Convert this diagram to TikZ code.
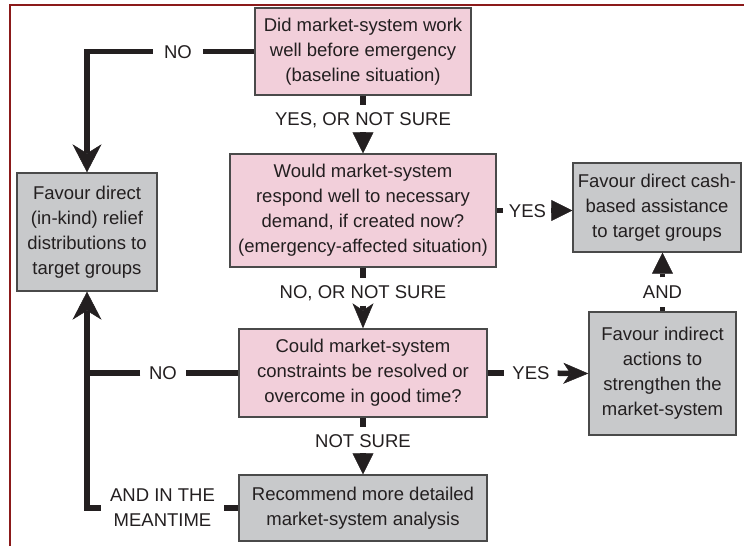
\documentclass[tikz,border=0pt]{standalone}
\usepackage{fontspec}
\setmainfont{Liberation Sans}
\usetikzlibrary{arrows.meta}

\definecolor{ink}{HTML}{231F20}
\definecolor{qpink}{HTML}{F2CFDA}
\definecolor{agrey}{HTML}{C8C9CB}
\definecolor{edge}{HTML}{4A4A4A}
\definecolor{framered}{HTML}{8B1A1A}

\begin{document}
\begin{tikzpicture}[x=1pt,y=-1pt,
  txt/.style={font=\fontsize{18.5}{25}\selectfont, text=ink},
  box/.style={txt, draw=edge, line width=1.4pt, align=center, inner sep=0pt},
  question/.style={box, fill=qpink},
  action/.style={box, fill=agrey},
  lbl/.style={txt, inner xsep=9pt, inner ysep=8pt, text height=13pt, text depth=0pt},
  lbltwo/.style={txt, align=center, inner xsep=9pt, inner ysep=4pt},
  conn/.style={draw=ink, line width=5.5pt, line join=miter},
  bigstealth/.style={-{Stealth[length=28pt,width=29pt,inset=9pt,line width=0.5pt]}},
  midstealth/.style={-{Stealth[length=25pt,width=21pt,inset=7pt,line width=0.5pt]}},
  tri/.style={-{Triangle[length=21pt,width=21pt,line width=0.5pt]}}
]
\useasboundingbox (0,0) rectangle (744,546);

% page frame
\draw[framered, line width=2pt] (10,546) -- (10,5) -- (744,5);

% decision boxes
\node[question, minimum width=216pt, minimum height=87pt] (q1) at (363,51.5)
  {Did market-system work\\well before emergency\\(baseline situation)};
\node[question, minimum width=266pt, minimum height=113pt] (q2) at (363,210.5)
  {Would market-system\\respond well to necessary\\demand, if created now?\\(emergency-affected situation)};
\node[question, minimum width=248pt, minimum height=88pt] (q3) at (363,373)
  {Could market-system\\constraints be resolved or\\overcome in good time?};

% outcome boxes
\node[action, minimum width=248pt, minimum height=66pt] (rec) at (363,508)
  {Recommend more detailed\\market-system analysis};
\node[action, minimum width=140pt, minimum height=118pt] (inkind) at (87,232)
  {Favour direct\\(in-kind) relief\\distributions to\\target groups};
\node[action, minimum width=168pt, minimum height=89pt] (cash) at (657,207.5)
  {Favour direct cash-\\based assistance\\to target groups};
\node[action, minimum width=147pt, minimum height=123pt] (indirect) at (662.5,373.5)
  {Favour indirect\\actions to\\strengthen the\\market-system};

% connector labels
\node[lbl, inner xsep=11pt] (no1) at (178,51.5) {NO};
\node[lbl, inner ysep=7pt] (yes0) at (363,119) {YES, OR NOT SURE};
\node[lbl, inner xsep=6pt] (yes1) at (527.5,210.5) {YES};
\node[lbl, inner ysep=7pt] (no0) at (363,292) {NO, OR NOT SURE};
\node[lbl, inner xsep=8.5pt] (no2) at (163,373) {NO};
\node[lbl, inner xsep=8pt] (yes2) at (531,373) {YES};
\node[lbl, inner ysep=7pt] (ns) at (363,441) {NOT SURE};
\node[lbltwo] (meantime) at (162.5,508) {AND IN THE\\MEANTIME};
\node[lbl, inner ysep=8pt] (and) at (662.5,292) {AND};
\coordinate (join) at (87,373);

% connectors
\draw[conn] (q1.west) -- (no1);
\draw[conn, bigstealth] (no1) -| (inkind.north);

\draw[conn] (q1.south) -- (yes0);
\draw[conn, tri] (yes0) -- (q2.north);

\draw[conn] (q2.east) -- (yes1);
\draw[conn, tri] (yes1) -- (yes1 -| cash.west);

\draw[conn] (q2.south) -- (no0);
\draw[conn, midstealth] (no0) -- (q3.north);

\draw[conn] (q3.west) -- (no2);
\draw[conn] (no2) -- (join);

\draw[conn] (q3.east) -- (yes2);
\draw[conn, midstealth] (yes2) -- (indirect.west);

\draw[conn] (q3.south) -- (ns);
\draw[conn, tri] (ns) -- (rec.north);

\draw[conn] (rec.west) -- (meantime);
\draw[conn, bigstealth] (meantime) -| (inkind.south);

\draw[conn] (indirect.north) -- (and);
\draw[conn, tri] (and) -- (and |- cash.south);
\end{tikzpicture}
\end{document}
